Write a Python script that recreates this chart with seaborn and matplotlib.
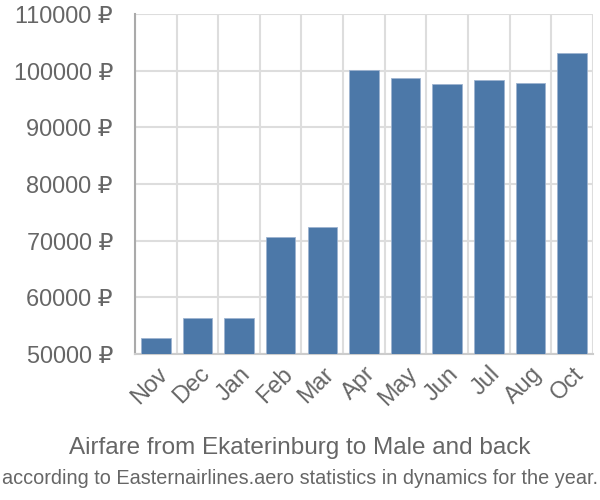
import matplotlib
matplotlib.use("Agg")
import matplotlib.pyplot as plt
import seaborn as sns
import numpy as np
import pandas as pd
from matplotlib.ticker import FixedLocator, FuncFormatter

months = ["Nov", "Dec", "Jan", "Feb", "Mar", "Apr", "May", "Jun", "Jul", "Aug", "Oct"]
prices = [52900, 56400, 56300, 70650, 72470, 100070, 98700, 97650, 98360, 97770, 103120]
yticks = [50000, 60000, 70000, 80000, 90000, 100000, 110000]

title = "Airfare from Ekaterinburg to Male and back"
subtitle = "according to Easternairlines.aero statistics in dynamics for the year."

sns.set_style("white")
plt.rcParams['font.family'] = ['Liberation Sans', 'DejaVu Sans']

df = pd.DataFrame({"month": months, "price": prices})

fig = plt.figure(figsize=(6, 5), dpi=100)
ax = fig.add_axes([0.225, 0.292, 0.763, 0.68])

grid_c = "#dddddd"
text_c = "#666666"

sns.barplot(data=df, x="month", y="price", ax=ax, color="#4c78a8", saturation=1,
            width=0.71, edgecolor="#9db3d0", linewidth=0.6, zorder=3)

ax.set_ylim(50000, 110000)
ax.set_xlim(-0.5, len(months) - 0.5)
ax.yaxis.set_major_locator(FixedLocator(yticks))
ax.yaxis.set_major_formatter(FuncFormatter(lambda v, p: f"{int(v)} ₽"))
ax.set_xlabel("")
ax.set_ylabel("")

ax.xaxis.set_minor_locator(FixedLocator(np.arange(-0.5, len(months), 1.0)))
ax.grid(axis="y", which="major", color=grid_c, lw=1.5, zorder=0)
ax.grid(axis="x", which="minor", color=grid_c, lw=1.5, zorder=0)
ax.set_axisbelow(True)

for s in ["top", "right"]:
    ax.spines[s].set_visible(False)
ax.spines["left"].set_color("#aaaaaa")
ax.spines["left"].set_linewidth(1.5)
ax.spines["bottom"].set_color("#cccccc")
ax.spines["bottom"].set_linewidth(1.5)

ax.tick_params(axis="y", which="major", length=14.4, width=1.2, color=grid_c,
               labelsize=16.9, labelcolor=text_c, pad=1.5)
ax.tick_params(axis="x", which="major", length=0, labelsize=16.9, labelcolor=text_c, pad=6)
ax.tick_params(axis="x", which="minor", length=13.5, width=1.5, color=grid_c)
for lab in ax.get_xticklabels():
    lab.set_rotation(45)
    lab.set_ha("right")
    lab.set_rotation_mode("anchor")

fig.text(0.5, 0.104, title, ha="center", va="center", fontsize=17.5, color=text_c)
fig.text(0.5, 0.042, subtitle, ha="center", va="center", fontsize=14.3, color=text_c)

fig.savefig("out.png", dpi=100)
